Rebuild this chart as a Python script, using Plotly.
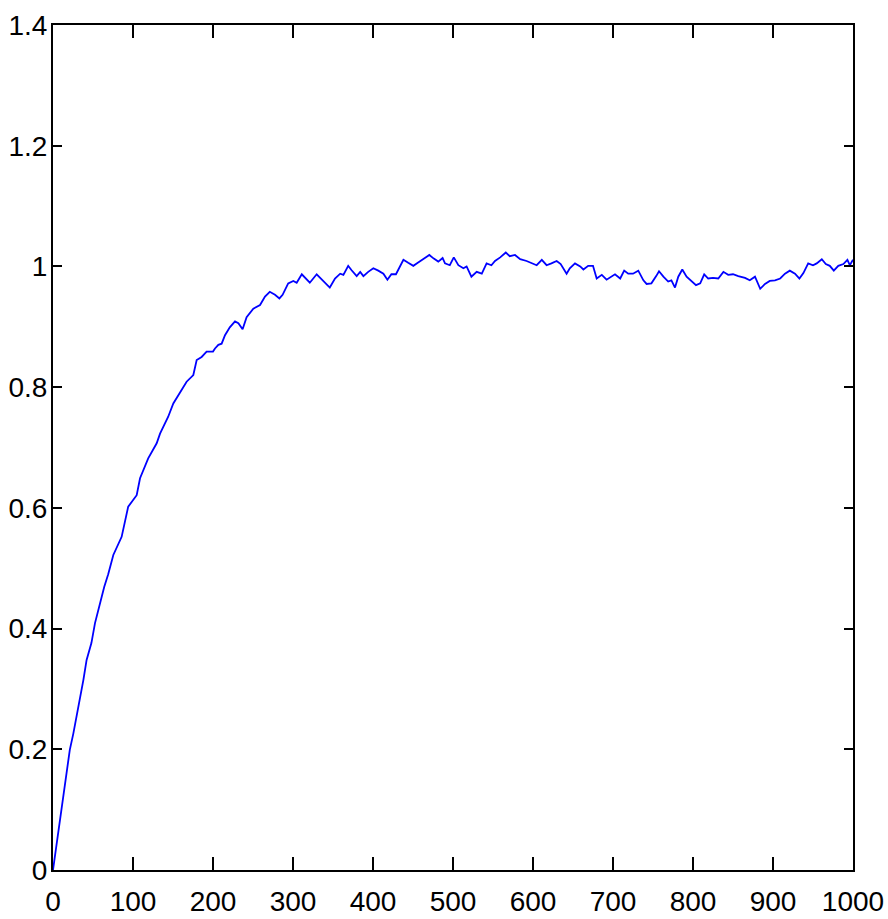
import plotly.graph_objects as go

t_vals = [0, 4.6, 8.75, 13, 17, 21, 25.4, 29.6, 33.75, 38, 42, 48, 52.5, 59, 64, 69, 75.4,
          85.8, 94, 104.6, 108.8, 119, 129.6, 133.8, 144, 150.4, 160.8, 167, 175.4, 179.6,
          185.8, 192, 200, 202.5, 206.7, 210.8, 215, 221, 227.5, 231.7, 237, 242, 250.4,
          258.8, 265, 271, 277.5, 283, 287, 294, 300.4, 304.6, 311, 315, 321, 329.6, 338,
          346, 352.5, 359, 363, 369, 373, 379.6, 384, 388, 394, 400.4, 406.6, 413, 418, 423,
          428.7, 438, 444, 450.4, 456, 462, 470.4, 476, 481.6, 487, 490, 496, 501, 506.7,
          513, 517, 523, 529.6, 536, 542, 548, 552.5, 559, 566, 571, 577.5, 584, 592, 598,
          604.6, 611, 617, 623, 629.6, 634.6, 642, 646, 652.5, 659, 663, 669, 675, 679.6,
          686, 692, 698, 702.5, 709, 714, 719, 725, 731.6, 738, 742, 748, 754, 757.5, 763,
          769, 773, 777.5, 781.6, 786.6, 792, 798, 803.75, 809, 814, 819, 825, 831.6, 838,
          844, 850, 856.6, 865, 871, 877.5, 884, 890, 896, 902.5, 909, 915, 921, 927.5, 933,
          938, 944, 950, 954.6, 961, 966, 971, 976, 981.6, 988, 993, 996, 1000]

v_vals = [0, 0.044, 0.083, 0.127, 0.160, 0.199, 0.226, 0.254, 0.282, 0.315, 0.348, 0.376,
          0.409, 0.444, 0.469, 0.490, 0.522, 0.552, 0.602, 0.621, 0.649, 0.682, 0.707, 0.723,
          0.751, 0.773, 0.795, 0.809, 0.820, 0.845, 0.850, 0.859, 0.859, 0.864, 0.870, 0.872,
          0.886, 0.899, 0.909, 0.906, 0.896, 0.916, 0.930, 0.936, 0.950, 0.958, 0.953, 0.947,
          0.953, 0.972, 0.976, 0.973, 0.987, 0.981, 0.973, 0.987, 0.975, 0.965, 0.980, 0.988,
          0.986, 1.001, 0.994, 0.984, 0.991, 0.984, 0.991, 0.997, 0.993, 0.988, 0.978, 0.987,
          0.987, 1.011, 1.006, 1.001, 1.006, 1.011, 1.019, 1.013, 1.008, 1.014, 1.005, 1.002,
          1.015, 1.002, 0.997, 1.000, 0.983, 0.991, 0.988, 1.005, 1.002, 1.009, 1.015, 1.023,
          1.017, 1.019, 1.012, 1.009, 1.006, 1.002, 1.011, 1.002, 1.005, 1.009, 1.004, 0.988,
          0.997, 1.005, 1.000, 0.995, 1.001, 1.001, 0.980, 0.986, 0.978, 0.983, 0.987, 0.980,
          0.993, 0.988, 0.988, 0.993, 0.977, 0.971, 0.972, 0.984, 0.992, 0.983, 0.975, 0.977,
          0.965, 0.983, 0.995, 0.983, 0.975, 0.969, 0.972, 0.987, 0.980, 0.981, 0.980, 0.991,
          0.986, 0.987, 0.984, 0.981, 0.977, 0.983, 0.963, 0.971, 0.976, 0.977, 0.980, 0.988,
          0.993, 0.988, 0.980, 0.989, 1.005, 1.002, 1.005, 1.012, 1.004, 1.001, 0.993, 1.001,
          1.004, 1.011, 1.002, 1.011]

x_ticks = [0, 100, 200, 300, 400, 500, 600, 700, 800, 900, 1000]
x_labels = ["0", "100", "200", "300", "400", "500", "600", "700", "800", "900", "1000"]
y_ticks = [0, 0.2, 0.4, 0.6, 0.8, 1.0, 1.2, 1.4]
y_labels = ["0", "0.2", "0.4", "0.6", "0.8", "1", "1.2", "1.4"]

fig = go.Figure()
fig.add_trace(go.Scatter(x=t_vals, y=v_vals, mode="lines",
                         line=dict(color="#0000FF", width=1.8), showlegend=False))

font = dict(family="Liberation Sans Narrow, Arial Narrow, Liberation Sans, Arial", size=28, color="black")

fig.update_layout(
    width=888, height=919,
    margin=dict(l=53, r=35, t=25, b=49, autoexpand=False),
    paper_bgcolor="white", plot_bgcolor="white",
    font=font,
    xaxis=dict(range=[0, 1000], tickvals=x_ticks, ticktext=x_labels, automargin=False,
               showgrid=False, zeroline=False, showline=True, linecolor="black", linewidth=2,
               mirror="ticks", ticks="inside", ticklen=13, tickwidth=1.5, tickcolor="black",
               tickfont=font, ticklabelstandoff=5),
    yaxis=dict(range=[0, 1.4], tickvals=y_ticks, ticktext=y_labels, automargin=False,
               showgrid=False, zeroline=False, showline=True, linecolor="black", linewidth=2,
               mirror="ticks", ticks="inside", ticklen=9, tickwidth=1.5, tickcolor="black",
               tickfont=font, ticklabelstandoff=-2),
)

fig.write_html("out.html")
